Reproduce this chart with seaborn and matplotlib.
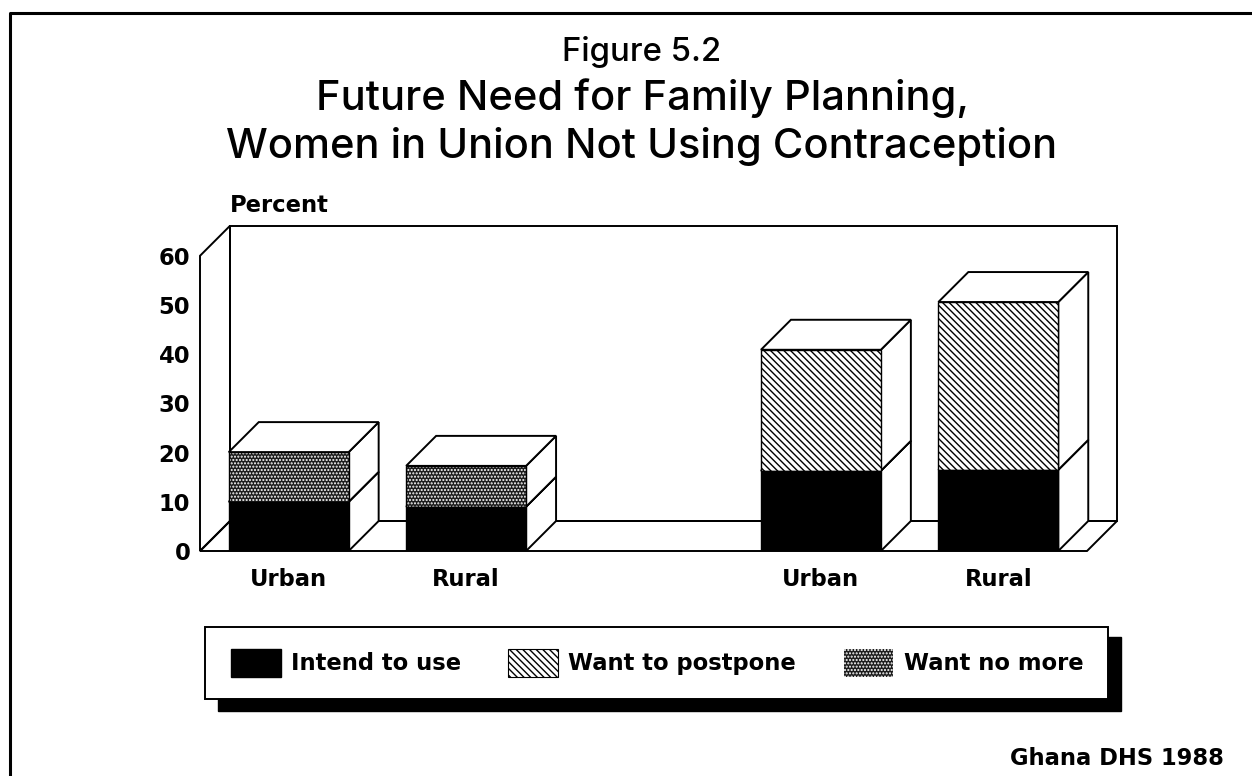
import numpy as np
import pandas as pd
import seaborn as sns
import matplotlib.pyplot as plt
from matplotlib.patches import Patch, Polygon, Rectangle

# --- data ---
groups = ['u1', 'r1', 'gap', 'u2', 'r2']
tick_labels = ['Urban', 'Rural', '', 'Urban', 'Rural']
bar_groups = ['u1', 'r1', 'u2', 'r2']
intend_to_use = [10.0, 9.0, 16.3, 16.5]
want_postpone = [0.0, 0.0, 24.6, 34.1]
want_no_more = [10.1, 8.3, 0.0, 0.0]
y_ticks = [0, 10, 20, 30, 40, 50, 60]
legend_labels = ['Intend to use', 'Want to postpone', 'Want no more']

W, H = 1252, 776
DEPTH_PX = 30
TITLE_FONT = ['Inter', 'DejaVu Sans']
SMALL_FONT = ['DejaVu Sans']
SMALL = 16.3
POSTPONE_HATCH = '\\\\\\\\\\'
NOMORE_HATCH = '.....'

sns.set_theme(style='white')
plt.rcParams['font.family'] = TITLE_FONT
plt.rcParams['hatch.linewidth'] = 1.0

fig = plt.figure(figsize=(W / 100, H / 100), dpi=100, facecolor='white')

# overlay in pixel coordinates for the page frame, titles and legend box
page = fig.add_axes([0, 0, 1, 1], zorder=0)
page.set_xlim(0, W)
page.set_ylim(H, 0)
page.axis('off')
page.plot([10, 10, W], [H, 13, 13], color='black', lw=2.2)

small_kw = dict(fontsize=SMALL, fontweight='bold', family=SMALL_FONT, color='black')
page.text(642, 61, 'Figure 5.2', ha='center', va='baseline', fontsize=23.7, fontweight='medium', color='black')
page.text(642, 110, 'Future Need for Family Planning,', ha='center', va='baseline', fontsize=30, fontweight='medium', color='black')
page.text(642, 158, 'Women in Union Not Using Contraception', ha='center', va='baseline', fontsize=30, fontweight='medium', color='black')
page.text(230, 212, 'Percent', ha='left', va='baseline', **small_kw)
page.text(1224, 765, 'Ghana DHS 1988', ha='right', va='baseline', **small_kw)

# chart: front plane is 200..1087 px, zero at y=551, 10 units = 49.2 px
ax = fig.add_axes([200 / W, (H - 551) / H, 917 / W, 325 / H], zorder=1)
ax.patch.set_alpha(0)

df = pd.DataFrame({
    'group': bar_groups,
    'intend': intend_to_use,
    'postpone': want_postpone,
    'nomore': want_no_more,
})

bar_kw = dict(x='group', order=groups, width=0.676, saturation=1, zorder=3, ax=ax, linewidth=0)
sns.barplot(data=df, y='intend', color='black', **bar_kw)
sns.barplot(data=df, y='postpone', bottom=df['intend'], color='white', edgecolor='black', hatch=POSTPONE_HATCH, **bar_kw)
sns.barplot(data=df, y='nomore', bottom=df['intend'], color='#1c1c1c', edgecolor='white', hatch=NOMORE_HATCH, **bar_kw)

ax.set_xlim(-0.5, 4.5 + 30 / 177.4)
ax.set_ylim(0, 325 / 4.92)
dx = DEPTH_PX / 177.4
dy = DEPTH_PX / 4.92

# walls and floor of the box
lw = 1.4
x0, x1 = -0.5, 4.5
wall = dict(fill=False, edgecolor='black', lw=lw, zorder=1, clip_on=False)
ax.add_patch(Polygon([(x0, 0), (x0, 60), (x0 + dx, 60 + dy), (x0 + dx, dy)], **wall))
ax.add_patch(Polygon([(x0, 0), (x1, 0), (x1 + dx, dy), (x0 + dx, dy)], **wall))
ax.add_patch(Polygon([(x0 + dx, dy), (x0 + dx, 60 + dy), (x1 + dx, 60 + dy), (x1 + dx, dy)], **wall))

# 3d sides of each bar, taken from the bars seaborn drew
for p in ax.patches:
    if not isinstance(p, Rectangle) or p.get_height() <= 0:
        continue
    xa, w, ya, h = p.get_x(), p.get_width(), p.get_y(), p.get_height()
    xb = xa + w
    side = [(xb, ya), (xb + dx, ya + dy), (xb + dx, ya + h + dy), (xb, ya + h)]
    ax.add_patch(Polygon(side, facecolor='white', edgecolor='black', lw=lw, zorder=2))
    top = ya + h
    ax.add_patch(Polygon([(xa, top), (xb, top), (xb + dx, top + dy), (xa + dx, top + dy)],
                         facecolor='white', edgecolor='black', lw=lw, zorder=2))
    ax.add_patch(Rectangle((xa, ya), w, h, fill=False, edgecolor='black', lw=1.0, zorder=4))

ax.set_xticks(range(len(groups)))
ax.set_xticklabels(tick_labels, **small_kw)
ax.set_yticks(y_ticks)
ax.set_yticklabels(y_ticks, **small_kw)
ax.tick_params(axis='both', length=0)
ax.tick_params(axis='x', pad=12)
ax.tick_params(axis='y', pad=7)
ax.set_xlabel('')
ax.set_ylabel('')
sns.despine(ax=ax, left=True, bottom=True)

# legend box with a hard black drop shadow
page.add_patch(Rectangle((218, 637), 903, 74, facecolor='black', edgecolor='black', zorder=1))
page.add_patch(Rectangle((205, 627), 903, 72, facecolor='white', edgecolor='black', lw=1.4, zorder=2))
handles = [
    Patch(facecolor='black', edgecolor='black'),
    Patch(facecolor='white', edgecolor='black', hatch=POSTPONE_HATCH, lw=0.8),
    Patch(facecolor='#1c1c1c', edgecolor='white', hatch=NOMORE_HATCH, lw=0),
]
leg = page.legend(handles, legend_labels, ncol=3, loc='center', bbox_to_anchor=(657, 663),
                  bbox_transform=page.transData, frameon=False,
                  prop={'weight': 'bold', 'size': SMALL, 'family': SMALL_FONT},
                  handlelength=2.2, handleheight=1.5, handletextpad=0.45, columnspacing=2.1,
                  labelcolor='black')
leg.set_zorder(3)

fig.savefig('out.png', dpi=100, facecolor='white')
